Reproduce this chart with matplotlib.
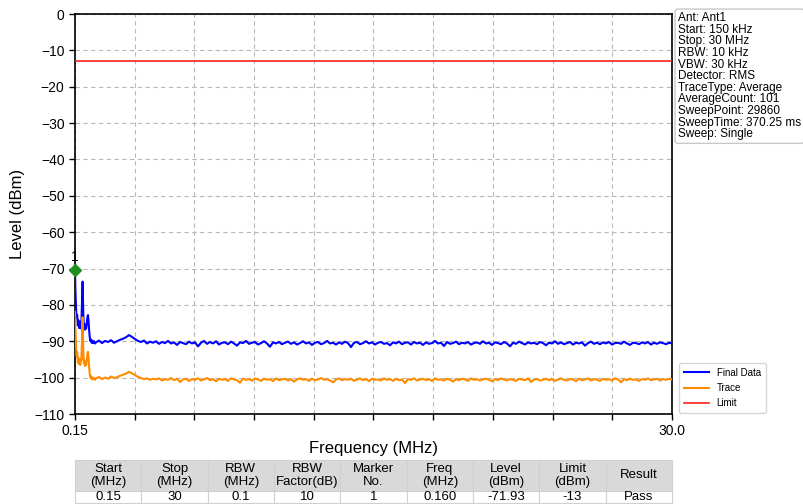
import numpy as np
import matplotlib
matplotlib.use("Agg")
import matplotlib.pyplot as plt

plt.rcParams['font.family'] = ['Liberation Sans', 'DejaVu Sans']
plt.rcParams['axes.unicode_minus'] = True

# ---------------- data ----------------
f_start, f_stop = 0.15, 30.0
limit_level = -13.0

early_freq = [0.15, 0.17, 0.20, 0.23, 0.26, 0.29, 0.32, 0.35, 0.38, 0.41, 0.44,
              0.47, 0.50, 0.53, 0.56, 0.59, 0.62, 0.65, 0.68, 0.71, 0.74, 0.77,
              0.80, 0.83, 0.86, 0.89, 0.92, 0.95, 0.98, 1.01, 1.05, 1.10, 1.15]
early_final = [-70.4, -76.0, -80.5, -83.5, -82.8, -85.6, -84.2, -86.3, -85.0, -86.4, -84.6,
               -85.0, -79.0, -73.6, -81.5, -86.0, -85.2, -86.8, -85.9, -86.5, -84.8, -83.4,
               -82.8, -84.6, -87.2, -89.0, -89.9, -89.5, -90.4, -89.8, -90.5, -90.0, -90.6]
early_trace = [-81.9, -86.5, -91.0, -94.0, -93.0, -95.8, -94.5, -96.3, -95.2, -96.5, -94.8,
               -95.2, -89.5, -83.4, -91.5, -96.0, -95.3, -96.8, -96.0, -96.5, -94.9, -93.5,
               -92.9, -94.7, -97.3, -99.0, -99.9, -99.6, -100.4, -99.9, -100.5, -100.1, -100.6]

late_start, late_step = 1.2, 0.15
late_final = [
    -90.3, -89.8, -90.5, -89.9, -90.2, -89.7, -90.4, -90.0, -89.6, -89.3,
    -88.9, -88.3, -88.8, -89.4, -89.9, -90.2, -89.8, -90.6, -90.1, -90.4,
    -90.0, -90.7, -90.2, -90.5, -89.9, -90.6, -90.3, -91.0, -90.2, -90.5,
    -90.8, -90.1, -90.6, -90.3, -91.4, -90.4, -89.9, -90.7, -90.2, -90.6,
    -90.0, -90.9, -90.4, -90.3, -90.8, -90.1, -90.6, -91.2, -90.3, -90.5,
    -89.9, -90.7, -90.4, -90.2, -90.9, -90.5, -90.0, -90.6, -91.5, -90.3,
    -90.6, -90.2, -90.8, -90.4, -90.1, -90.7, -90.3, -90.9, -90.5, -90.0,
    -90.6, -90.3, -91.0, -90.4, -90.2, -90.8, -90.5, -89.9, -90.6, -90.4,
    -90.9, -90.3, -90.7, -90.1, -90.5, -91.6, -90.4, -90.2, -90.8, -90.5,
    -90.0, -90.6, -90.3, -90.9, -90.4, -90.2, -90.7, -90.5, -91.1, -90.3,
    -90.6, -90.1, -90.8, -90.4, -90.3, -90.9, -90.2, -90.6, -90.4, -91.0,
    -90.3, -90.7, -90.5, -89.9, -90.6, -90.4, -91.3, -90.2, -90.7, -90.5,
    -90.1, -90.8, -90.4, -90.6, -90.2, -90.9, -90.5, -90.3, -90.7, -90.0,
    -90.6, -90.4, -91.0, -90.3, -90.5, -90.8, -90.2, -90.6, -91.4, -90.4,
    -90.7, -90.1, -90.5, -90.9, -90.3, -90.6, -90.4, -90.8, -90.2, -90.5,
    -91.1, -90.4, -90.6, -90.0, -90.7, -90.3, -90.8, -90.5, -90.2, -90.9,
    -90.4, -90.6, -90.3, -91.2, -90.5, -90.1, -90.7, -90.4, -90.8, -90.3,
    -90.6, -90.2, -90.9, -90.5, -90.4, -90.7, -90.1, -90.6, -91.0, -90.4,
    -90.5, -90.8, -90.3, -90.6, -90.2, -90.9, -90.4, -90.7, -90.3, -90.5,
    -90.8, -90.4, -90.6]
late_trace = [
    -100.2, -99.8, -100.4, -100.0, -100.3, -99.7, -100.1, -99.9, -99.5, -99.2,
    -98.9, -98.4, -98.8, -99.3, -99.8, -100.1, -100.4, -100.2, -100.6, -100.3,
    -100.5, -100.2, -100.8, -100.4, -100.6, -100.1, -100.7, -100.3, -101.2, -100.5,
    -100.3, -100.9, -100.4, -100.6, -100.2, -100.8, -100.5, -100.1, -100.7, -100.4,
    -101.0, -100.3, -100.6, -100.4, -100.9, -100.2, -100.5, -100.7, -101.4, -100.3,
    -100.6, -100.4, -100.8, -100.2, -100.5, -100.9, -100.3, -100.6, -100.4, -101.0,
    -100.2, -100.7, -100.5, -100.3, -100.8, -100.4, -101.1, -100.5, -100.2, -100.6,
    -100.4, -100.9, -100.3, -100.7, -100.5, -100.1, -100.6, -100.4, -100.8, -101.3,
    -100.5, -100.2, -100.7, -100.4, -100.6, -100.3, -100.9, -100.5, -100.2, -100.7,
    -100.4, -101.0, -100.3, -100.6, -100.5, -100.8, -100.2, -100.6, -100.4, -100.9,
    -100.3, -100.7, -100.5, -101.5, -100.4, -100.6, -100.2, -100.8, -100.5, -100.3,
    -100.7, -100.4, -100.9, -100.2, -100.6, -100.5, -100.8, -100.3, -100.6, -101.1,
    -100.4, -100.7, -100.3, -100.5, -100.9, -100.2, -100.6, -100.4, -100.8, -100.5,
    -100.3, -100.6, -101.0, -100.4, -100.7, -100.2, -100.5, -100.8, -100.4, -100.6,
    -100.9, -100.3, -100.5, -100.7, -100.2, -101.2, -100.5, -100.4, -100.8, -100.6,
    -100.3, -100.7, -100.4, -100.9, -100.5, -100.2, -100.6, -100.8, -100.4, -100.5,
    -101.0, -100.3, -100.7, -100.5, -100.2, -100.8, -100.4, -100.6, -100.9, -100.3,
    -100.6, -100.4, -100.8, -100.2, -100.5, -101.3, -100.4, -100.7, -100.3, -100.6,
    -100.5, -100.9, -100.4, -100.6, -100.2, -100.7, -100.5, -100.3, -100.8, -100.4,
    -100.6, -100.3, -100.5]

marker_label = "1"
marker_freq = 0.16
marker_level = -70.4

info_lines = ["Ant: Ant1", "Start: 150 kHz", "Stop: 30 MHz", "RBW: 10 kHz",
              "VBW: 30 kHz", "Detector: RMS", "TraceType: Average",
              "AverageCount: 101", "SweepPoint: 29860", "SweepTime: 370.25 ms",
              "Sweep: Single"]

table_header = ["Start\n(MHz)", "Stop\n(MHz)", "RBW\n(MHz)", "RBW\nFactor(dB)",
                "Marker\nNo.", "Freq\n(MHz)", "Level\n(dBm)", "Limit\n(dBm)", "Result"]
table_row = ["0.15", "30", "0.1", "10", "1", "0.160", "-71.93", "-13", "Pass"]

series_names = ["Final Data", "Trace", "Limit"]
series_colors = ["#0000ff", "#ff8c00", "#ff2020"]

# ---------------- build ----------------
late_freq = late_start + late_step * np.arange(len(late_final))
freq = np.concatenate([early_freq, late_freq])
final = np.concatenate([early_final, late_final])
trace = np.concatenate([early_trace, late_trace])

W, H = 804, 504
fig = plt.figure(figsize=(W / 100, H / 100), dpi=100)
ax = fig.add_axes([75 / W, 1 - 414 / H, 597 / W, 400 / H])

ax.plot(freq, final, color=series_colors[0], lw=1.5, label=series_names[0], zorder=3)
ax.plot(freq, trace, color=series_colors[1], lw=1.5, label=series_names[1], zorder=3)
ax.axhline(limit_level, color=series_colors[2], lw=1.2, label=series_names[2], zorder=3)

ax.plot([marker_freq], [marker_level], marker='D', color='#1f8f1f', ms=6,
        ls='none', clip_on=False, zorder=5)
ax.text(marker_freq, marker_level + 1.6, marker_label, ha='center', va='bottom',
        fontsize=10, color='black', clip_on=False)

ax.set_xlim(f_start, f_stop)
ax.set_ylim(-110, 0)
xt = np.linspace(f_start, f_stop, 11)
ax.set_xticks(xt)
ax.set_xticklabels(["0.15"] + [""] * 9 + ["30.0"])
ax.set_yticks(np.arange(-110, 1, 10))
ax.tick_params(labelsize=10, length=4, width=1)
ax.grid(True, color='#b8b8b8', ls=(0, (4, 3)), lw=0.8)
for s in ax.spines.values():
    s.set_linewidth(1.2)

ax.set_xlabel("Frequency (MHz)", fontsize=12, labelpad=2)
ax.set_ylabel("Level (dBm)", fontsize=12, labelpad=6)

leg = ax.legend(loc='lower left', bbox_to_anchor=(1.003, -0.01), fontsize=7,
                frameon=True, handlelength=2.6, borderpad=0.5, labelspacing=0.55,
                fancybox=True, edgecolor='#cccccc')

fig.text(678 / W, 1 - 12 / H, "\n".join(info_lines), fontsize=8.5, va='top', ha='left',
         linespacing=0.96,
         bbox=dict(boxstyle='round,pad=0.25', fc='white', ec='#c8c8c8', lw=1))

# table
tax = fig.add_axes([75 / W, 1 - 503 / H, 597 / W, 43 / H])
tax.axis('off')
tbl = tax.table(cellText=[table_header, table_row], cellLoc='center',
                bbox=[0, 0, 1, 1])
tbl.auto_set_font_size(False)
tbl.set_fontsize(9.5)
for (r, c), cell in tbl.get_celld().items():
    cell.set_edgecolor('#d0d0d0')
    cell.set_linewidth(0.8)
    if r == 0:
        cell.set_facecolor('#d9d9d9')
        cell.set_height(31 / 43)
    else:
        cell.set_facecolor('white')
        cell.set_height(12 / 43)

fig.savefig("out.png", dpi=100)
